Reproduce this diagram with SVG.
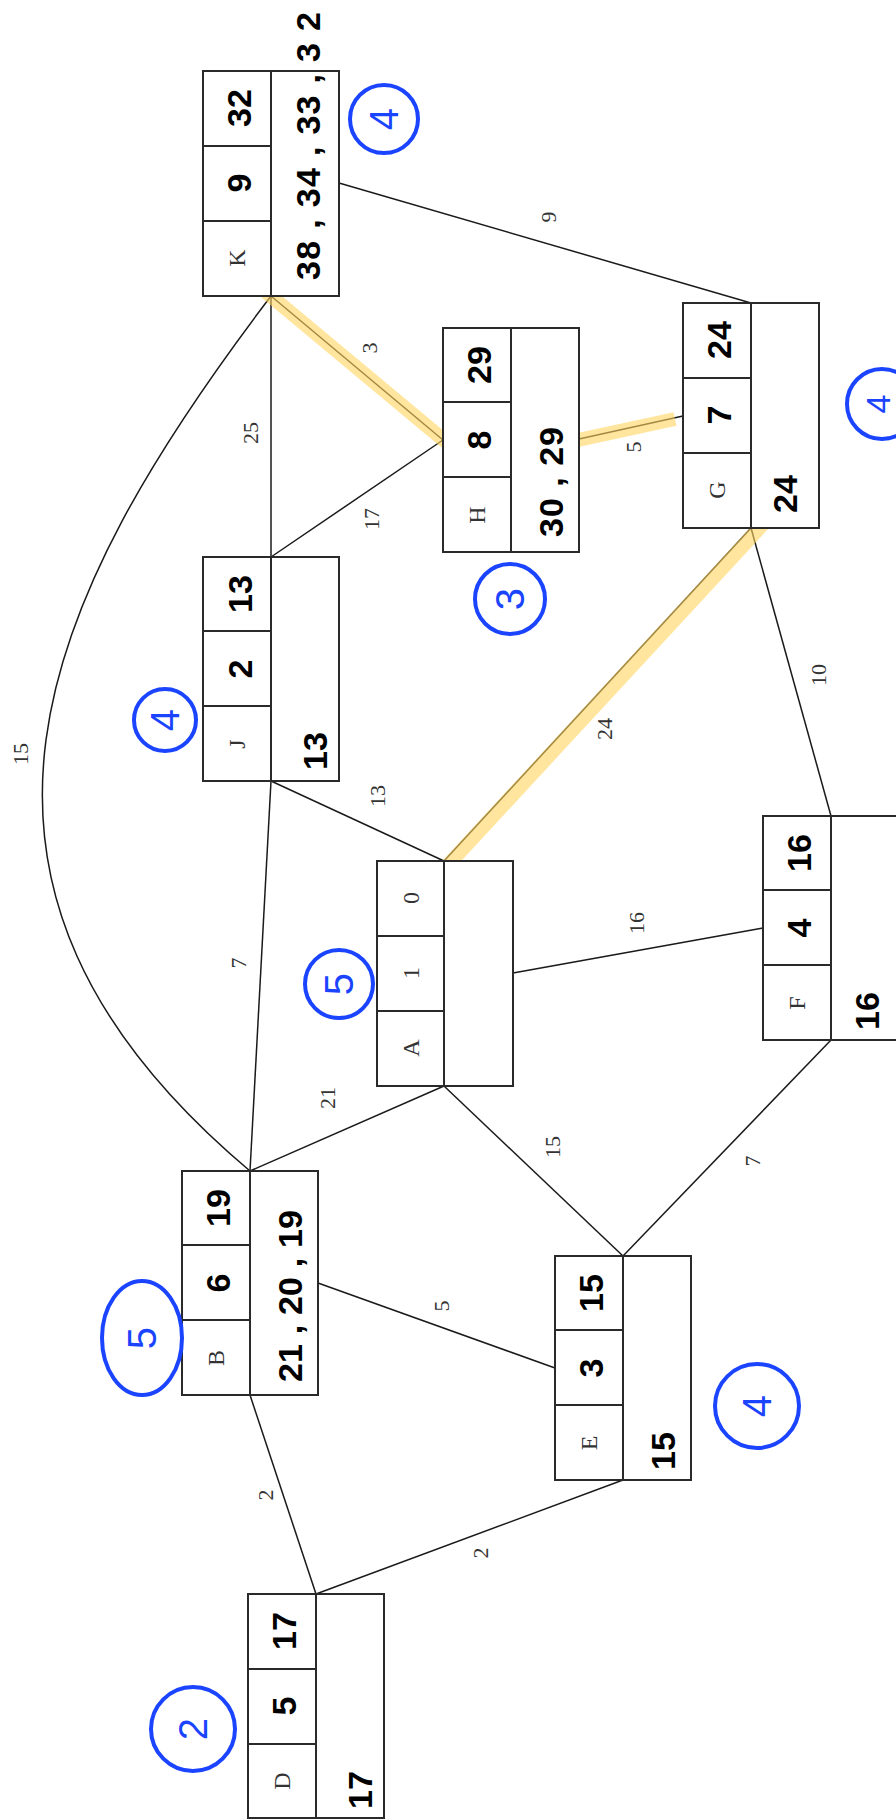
<svg xmlns="http://www.w3.org/2000/svg" width="896" height="1820" viewBox="0 0 896 1820">
<style>
.box{fill:#fff;stroke:#2a2a2a;stroke-width:2}
.div{stroke:#2a2a2a;stroke-width:2;fill:none}
.edge{stroke:#1a1a1a;stroke-width:1.5;fill:none}
.hl{stroke:#FFD45C;stroke-width:14;opacity:0.6;fill:none}
.lbl{font-family:"Liberation Serif",serif;font-size:22px;fill:#333;text-anchor:middle;dominant-baseline:central}
.let{font-family:"Liberation Serif",serif;font-size:24px;fill:#333;text-anchor:middle;dominant-baseline:central}
.hw{font-family:"Liberation Sans",sans-serif;font-weight:bold;font-size:34px;fill:#000;text-anchor:middle;dominant-baseline:central}
.hws{font-family:"Liberation Sans",sans-serif;font-weight:bold;font-size:34px;fill:#000;text-anchor:start;dominant-baseline:central}
.circ{fill:none;stroke:#1a44ff;stroke-width:4}
.bn{font-family:"Liberation Sans",sans-serif;font-size:40px;fill:#1a44ff;text-anchor:middle;dominant-baseline:central}
</style>

<g id="connectors">
  <line class="edge" x1="271" y1="296" x2="271" y2="557"/>
  <line class="edge" x1="271" y1="296" x2="443" y2="440"/>
  <path class="edge" d="M271,296 C40,600 -91,884 250,1171"/>
  <line class="edge" x1="339" y1="183" x2="751" y2="303"/>
  <line class="edge" x1="443" y1="440" x2="271" y2="557"/>
  <line class="edge" x1="579" y1="439" x2="683" y2="416"/>
  <line class="edge" x1="751" y1="528" x2="444" y2="861"/>
  <line class="edge" x1="751" y1="528" x2="831" y2="816"/>
  <line class="edge" x1="271" y1="781" x2="444" y2="861"/>
  <line class="edge" x1="271" y1="781" x2="250" y2="1171"/>
  <line class="edge" x1="513" y1="973" x2="763" y2="928"/>
  <line class="edge" x1="444" y1="1086" x2="250" y2="1171"/>
  <line class="edge" x1="444" y1="1086" x2="623" y2="1256"/>
  <line class="edge" x1="831" y1="1040" x2="623" y2="1256"/>
  <line class="edge" x1="318" y1="1283" x2="555" y2="1368"/>
  <line class="edge" x1="250" y1="1395" x2="316" y2="1594"/>
  <line class="edge" x1="623" y1="1480" x2="316" y2="1594"/>
  <line class="hl" x1="266" y1="292" x2="446" y2="442"/>
  <line class="hl" x1="578" y1="440" x2="675" y2="419"/>
  <line class="hl" x1="448" y1="865" x2="778" y2="508"/>
  <text class="lbl" x="250" y="433" transform="rotate(-90 250 433)">25</text>
  <text class="lbl" x="369" y="348" transform="rotate(-90 369 348)">3</text>
  <text class="lbl" x="548" y="217" transform="rotate(-90 548 217)">9</text>
  <text class="lbl" x="371" y="519" transform="rotate(-90 371 519)">17</text>
  <text class="lbl" x="633" y="447" transform="rotate(-90 633 447)">5</text>
  <text class="lbl" x="20" y="754" transform="rotate(-90 20 754)">15</text>
  <text class="lbl" x="818" y="675" transform="rotate(-90 818 675)">10</text>
  <text class="lbl" x="604" y="729" transform="rotate(-90 604 729)">24</text>
  <text class="lbl" x="377" y="796" transform="rotate(-90 377 796)">13</text>
  <text class="lbl" x="238" y="963" transform="rotate(-90 238 963)">7</text>
  <text class="lbl" x="636" y="923" transform="rotate(-90 636 923)">16</text>
  <text class="lbl" x="327" y="1098" transform="rotate(-90 327 1098)">21</text>
  <text class="lbl" x="552" y="1147" transform="rotate(-90 552 1147)">15</text>
  <text class="lbl" x="752" y="1161" transform="rotate(-90 752 1161)">7</text>
  <text class="lbl" x="441" y="1306" transform="rotate(-90 441 1306)">5</text>
  <text class="lbl" x="265" y="1495" transform="rotate(-90 265 1495)">2</text>
  <text class="lbl" x="480" y="1553" transform="rotate(-90 480 1553)">2</text>
</g>

<g id="node-K">
  <rect class="box" x="203" y="71" width="136" height="225"/>
  <path class="div" d="M271,71 V296 M203,146 H271 M203,221 H271"/>
  <text class="hw" x="239" y="108" transform="rotate(-90 239 108)">32</text>
  <text class="hw" x="239" y="183" transform="rotate(-90 239 183)">9</text>
  <text class="let" x="237" y="258" transform="rotate(-90 237 258)">K</text>
  <text class="hws" x="308" y="280" transform="rotate(-90 308 280)" textLength="268" lengthAdjust="spacing">38 , 34 , 33 , 3 2</text>
</g>

<g id="node-H">
  <rect class="box" x="443" y="328" width="136" height="224"/>
  <path class="div" d="M511,328 V552 M443,402 H511 M443,477 H511"/>
  <text class="hw" x="479" y="365" transform="rotate(-90 479 365)">29</text>
  <text class="hw" x="479" y="440" transform="rotate(-90 479 440)">8</text>
  <text class="let" x="477" y="515" transform="rotate(-90 477 515)">H</text>
  <text class="hws" x="551" y="537" transform="rotate(-90 551 537)" textLength="110" lengthAdjust="spacing">30 , 29</text>
</g>

<g id="node-G">
  <rect class="box" x="683" y="303" width="136" height="225"/>
  <path class="div" d="M751,303 V528 M683,378 H751 M683,453 H751"/>
  <text class="hw" x="719" y="340" transform="rotate(-90 719 340)">24</text>
  <text class="hw" x="719" y="415" transform="rotate(-90 719 415)">7</text>
  <text class="let" x="717" y="490" transform="rotate(-90 717 490)">G</text>
  <text class="hws" x="785" y="513" transform="rotate(-90 785 513)">24</text>
</g>

<g id="node-J">
  <rect class="box" x="203" y="557" width="136" height="224"/>
  <path class="div" d="M271,557 V781 M203,631 H271 M203,706 H271"/>
  <text class="hw" x="240" y="594" transform="rotate(-90 240 594)">13</text>
  <text class="hw" x="240" y="669" transform="rotate(-90 240 669)">2</text>
  <text class="let" x="237" y="744" transform="rotate(-90 237 744)">J</text>
  <text class="hws" x="315" y="770" transform="rotate(-90 315 770)">13</text>
</g>

<g id="node-A">
  <rect class="box" x="377" y="861" width="136" height="225"/>
  <path class="div" d="M444,861 V1086 M377,936 H444 M377,1011 H444"/>
  <text class="let" x="411" y="898" transform="rotate(-90 411 898)">0</text>
  <text class="let" x="411" y="973" transform="rotate(-90 411 973)">1</text>
  <text class="let" x="411" y="1048" transform="rotate(-90 411 1048)">A</text>
</g>

<g id="node-F">
  <rect class="box" x="763" y="816" width="136" height="224"/>
  <path class="div" d="M831,816 V1040 M763,890 H831 M763,965 H831"/>
  <text class="hw" x="799" y="853" transform="rotate(-90 799 853)">16</text>
  <text class="hw" x="799" y="928" transform="rotate(-90 799 928)">4</text>
  <text class="let" x="797" y="1003" transform="rotate(-90 797 1003)">F</text>
  <text class="hws" x="867" y="1030" transform="rotate(-90 867 1030)">16</text>
</g>

<g id="node-B">
  <rect class="box" x="182" y="1171" width="136" height="224"/>
  <path class="div" d="M250,1171 V1395 M182,1245 H250 M182,1320 H250"/>
  <text class="hw" x="218" y="1208" transform="rotate(-90 218 1208)">19</text>
  <text class="hw" x="218" y="1283" transform="rotate(-90 218 1283)">6</text>
  <text class="let" x="216" y="1358" transform="rotate(-90 216 1358)">B</text>
  <text class="hws" x="290" y="1382" transform="rotate(-90 290 1382)" textLength="172" lengthAdjust="spacing">21 , 20 , 19</text>
</g>

<g id="node-E">
  <rect class="box" x="555" y="1256" width="136" height="224"/>
  <path class="div" d="M623,1256 V1480 M555,1330 H623 M555,1405 H623"/>
  <text class="hw" x="591" y="1293" transform="rotate(-90 591 1293)">15</text>
  <text class="hw" x="591" y="1368" transform="rotate(-90 591 1368)">3</text>
  <text class="let" x="589" y="1443" transform="rotate(-90 589 1443)">E</text>
  <text class="hws" x="663" y="1470" transform="rotate(-90 663 1470)">15</text>
</g>

<g id="node-D">
  <rect class="box" x="248" y="1594" width="136" height="224"/>
  <path class="div" d="M316,1594 V1818 M248,1669 H316 M248,1744 H316"/>
  <text class="hw" x="284" y="1631" transform="rotate(-90 284 1631)">17</text>
  <text class="hw" x="284" y="1706" transform="rotate(-90 284 1706)">5</text>
  <text class="let" x="282" y="1781" transform="rotate(-90 282 1781)">D</text>
  <text class="hws" x="360" y="1809" transform="rotate(-90 360 1809)">17</text>
</g>

<g id="marks">
  <circle class="circ" cx="384" cy="119" r="34"/>
  <text class="bn" x="384" y="119" transform="rotate(-90 384 119)">4</text>
  <circle class="circ" cx="882" cy="404" r="35"/>
  <text class="bn" x="878" y="404" transform="rotate(-90 878 404)" style="font-size:34px">4</text>
  <circle class="circ" cx="510" cy="599" r="35"/>
  <text class="bn" x="510" y="599" transform="rotate(-90 510 599)">3</text>
  <circle class="circ" cx="165" cy="720" r="31"/>
  <text class="bn" x="165" y="720" transform="rotate(-90 165 720)">4</text>
  <circle class="circ" cx="339" cy="984" r="34"/>
  <text class="bn" x="339" y="984" transform="rotate(-90 339 984)">5</text>
  <ellipse class="circ" cx="142" cy="1338" rx="40" ry="57"/>
  <text class="bn" x="142" y="1338" transform="rotate(-90 142 1338)">5</text>
  <circle class="circ" cx="757" cy="1406" r="42"/>
  <text class="bn" x="757" y="1406" transform="rotate(-90 757 1406)">4</text>
  <circle class="circ" cx="193" cy="1729" r="42"/>
  <text class="bn" x="193" y="1729" transform="rotate(-90 193 1729)">2</text>
</g>
</svg>
